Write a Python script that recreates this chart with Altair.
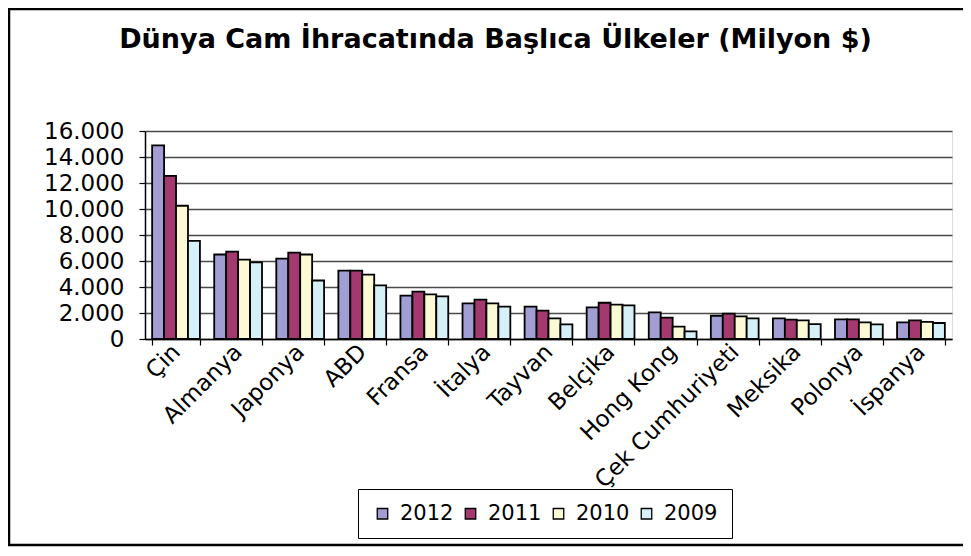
import altair as alt
import pandas as pd

countries = ["Çin", "Almanya", "Japonya", "ABD", "Fransa", "İtalya", "Tayvan",
             "Belçika", "Hong Kong", "Çek Cumhuriyeti", "Meksika", "Polonya", "İspanya"]
years = ["2012", "2011", "2010", "2009"]
v2012 = [14900, 6500, 6180, 5260, 3330, 2740, 2490, 2440, 2050, 1790, 1590, 1510, 1280]
v2011 = [12550, 6720, 6650, 5260, 3640, 3030, 2190, 2790, 1640, 1950, 1490, 1510, 1440]
v2010 = [10250, 6100, 6500, 4950, 3440, 2740, 1590, 2640, 950, 1740, 1440, 1280, 1310]
v2009 = [7550, 5900, 4500, 4130, 3280, 2490, 1130, 2590, 590, 1590, 1150, 1130, 1230]
colors = ["#A09ED2", "#A3396E", "#FCFAD4", "#D6F0F8"]
y_ticks = [0, 2000, 4000, 6000, 8000, 10000, 12000, 14000, 16000]

series = {"2012": v2012, "2011": v2011, "2010": v2010, "2009": v2009}
rows = []
for yr in years:
    for c, v in zip(countries, series[yr]):
        rows.append({"Ülke": c, "Yıl": yr, "Değer": v})
df = pd.DataFrame(rows)

FONT = "DejaVu Sans"

bars = alt.Chart(df).mark_bar(stroke="black", strokeWidth=1.8, strokeOpacity=1).encode(
    x=alt.X("Ülke:N", sort=countries,
            scale=alt.Scale(paddingInner=0.23, paddingOuter=0.115),
            axis=alt.Axis(title=None, labelAngle=-45, labelAlign="right", labelBaseline="middle",
                          tickBand="extent", tickSize=6, tickColor="black", tickWidth=1.2,
                          domainColor="black", domainWidth=1.5, labelFontSize=23, labelFont=FONT,
                          labelColor="black", labelPadding=3, labelLimit=400, labelOverlap=False,
                          grid=False)),
    xOffset=alt.XOffset("Yıl:N", sort=years, scale=alt.Scale(paddingInner=0, paddingOuter=0)),
    y=alt.Y("Değer:Q", scale=alt.Scale(domain=[0, 16000], nice=False),
            axis=alt.Axis(title=None, values=y_ticks,
                          labelExpr="replace(format(datum.value, ','), ',', '.')",
                          tickSize=6, tickColor="black", tickWidth=1.2, domainColor="black",
                          domainWidth=1.5, labelFontSize=23, labelFont=FONT, labelColor="black",
                          labelPadding=15, gridColor="#4a4a4a", gridWidth=1.5, gridOpacity=1)),
    color=alt.Color("Yıl:N", sort=years,
                    scale=alt.Scale(domain=years, range=colors),
                    legend=alt.Legend(title=None, orient="none", legendX=213, legendY=358,
                                      direction="horizontal", columns=4, columnPadding=6,
                                      symbolType="square", symbolSize=110,
                                      symbolStrokeColor="black", symbolStrokeWidth=1.3,
                                      symbolOpacity=1,
                                      labelFontSize=21, labelFont=FONT, labelColor="black",
                                      labelOffset=7, padding=14, strokeColor="black",
                                      fillColor="white")),
)

frame = alt.Chart(pd.DataFrame({"k": [0]})).mark_rect(
    fillOpacity=0, stroke="black", strokeWidth=2.5
).encode(
    x=alt.value(-136), x2=alt.value(850), y=alt.value(-122), y2=alt.value(414)
)

chart = alt.layer(bars, frame).properties(
    width=807, height=208,
    title=alt.TitleParams(
        "Dünya Cam İhracatında Başlıca Ülkeler (Milyon $)",
        font=FONT, fontSize=27, fontWeight="bold", color="black",
        anchor="middle", dx=-53, offset=-46,
    ),
    autosize=alt.AutoSizeParams(type="none"),
    padding={"left": 137, "top": 123, "right": 11, "bottom": 209},
).configure_view(
    fill="#C4C4C4", stroke="#8a8a8a", strokeWidth=1.5
).configure(background="white")

chart.save("out.html", embed_options={"renderer": "svg", "actions": False})
